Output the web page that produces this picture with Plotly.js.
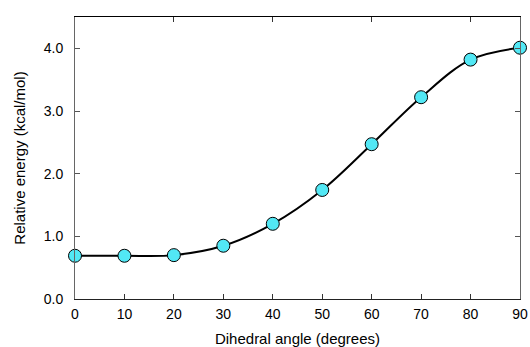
<!DOCTYPE html>
<html>
<head>
<meta charset="utf-8">
<script src="https://cdn.plot.ly/plotly-3.0.1.min.js"></script>
<style>
  html, body { margin: 0; padding: 0; background: #fff; }
  #chart { width: 530px; height: 347px; }
</style>
</head>
<body>
<div id="chart"></div>
<script>
// Torsional energy scan: relative energy vs. dihedral angle
const angles = [0, 10, 20, 30, 40, 50, 60, 70, 80, 90];
const energies = [0.69, 0.69, 0.70, 0.85, 1.20, 1.74, 2.47, 3.22, 3.82, 4.01];
const xTickVals = [0, 10, 20, 30, 40, 50, 60, 70, 80, 90];
const yTickVals = [0, 1, 2, 3, 4];
const yTickText = ['0.0', '1.0', '2.0', '3.0', '4.0'];

const fontFamily = 'Liberation Sans, Arial, sans-serif';

const curve = {
  x: angles,
  y: energies,
  type: 'scatter',
  mode: 'lines+markers',
  line: { shape: 'spline', smoothing: 1, color: '#000000', width: 2 },
  marker: { size: 13, color: '#52E8F5', line: { color: '#000000', width: 1 } },
  cliponaxis: false,
  hoverinfo: 'skip'
};

const layout = {
  width: 530,
  height: 347,
  margin: { l: 75, r: 10, t: 17, b: 48 },
  paper_bgcolor: '#ffffff',
  plot_bgcolor: '#ffffff',
  showlegend: false,
  font: { family: fontFamily, size: 14, color: '#000000' },
  xaxis: {
    range: [0, 90],
    tickvals: xTickVals,
    ticks: 'inside',
    ticklen: 5,
    tickcolor: '#333333',
    showline: true,
    linecolor: '#222222',
    linewidth: 1,
    showgrid: false,
    zeroline: false,
    tickfont: { size: 14 },
    ticklabelstandoff: 2,
    title: { text: 'Dihedral angle (degrees)', font: { size: 15 }, standoff: 13 }
  },
  xaxis2: {
    range: [0, 90],
    overlaying: 'x',
    side: 'top',
    dtick: 20,
    tick0: 0,
    ticks: 'inside',
    ticklen: 5,
    tickcolor: '#333333',
    showline: true,
    linecolor: '#000000',
    linewidth: 1,
    showgrid: false,
    zeroline: false,
    showticklabels: false
  },
  yaxis: {
    range: [0, 4.5],
    tickvals: yTickVals,
    ticktext: yTickText,
    ticks: 'inside',
    ticklen: 5,
    tickcolor: '#555555',
    showline: true,
    mirror: 'ticks',
    linecolor: '#666666',
    linewidth: 1,
    showgrid: false,
    zeroline: false,
    tickfont: { size: 14 },
    ticklabelstandoff: 8,
    title: { text: 'Relative energy (kcal/mol)', font: { size: 15 }, standoff: 14 }
  }
};

// invisible trace so the top axis is drawn
const topAxisTrace = { x: [0, 90], y: [0, 0], xaxis: 'x2', type: 'scatter', mode: 'none', hoverinfo: 'skip', showlegend: false };

Plotly.newPlot('chart', [curve, topAxisTrace], layout, { staticPlot: true });
</script>
</body>
</html>
